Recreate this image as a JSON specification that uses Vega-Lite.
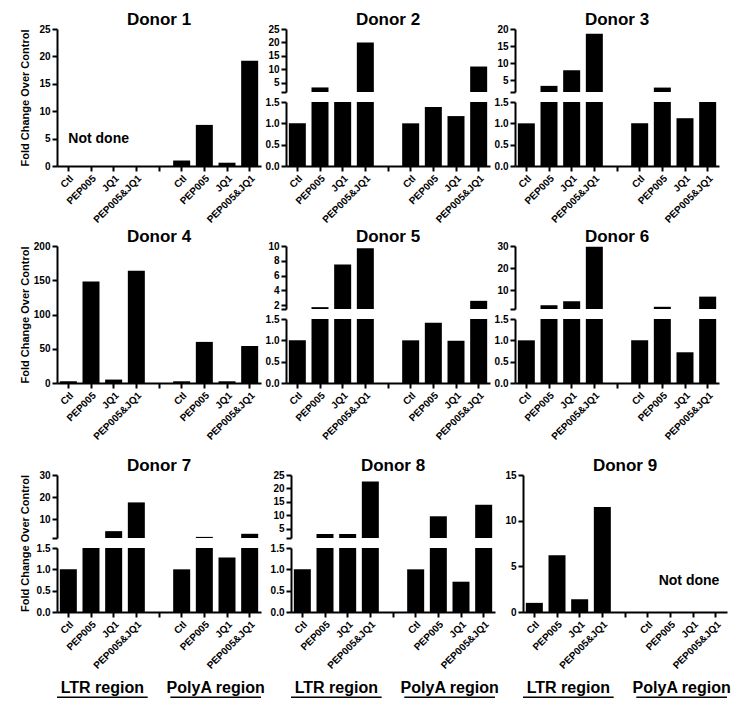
{
"$schema":"https://vega.github.io/schema/vega-lite/v6.json",
"padding":{"left":18,"top":11,"right":5,"bottom":5},
"config":{
 "font":"Liberation Sans",
 "view":{"stroke":null},
 "bar":{"color":"black"},
 "text":{"font":"Liberation Sans","fontWeight":"bold","color":"black"},
 "axis":{"domainColor":"black","domainWidth":2,"tickColor":"black","tickWidth":2,"tickSize":5,"labelColor":"black","labelFontSize":10,"labelFontWeight":"bold","labelFont":"Liberation Sans","labelPadding":2,"titleFont":"Liberation Sans","titleFontSize":11,"titleFontWeight":"bold","titleColor":"black","titlePadding":4,"grid":false,"labelOverlap":false},
 "axisX":{"labelAngle":-45},
 "title":{"font":"Liberation Sans","fontSize":17,"fontWeight":"bold","color":"black","anchor":"middle","offset":-5}
},
"datasets":{"d":[
 {"donor":"Donor 1","bar":"PolyA Ctl","value":1.0},
 {"donor":"Donor 1","bar":"PolyA PEP005","value":7.5},
 {"donor":"Donor 1","bar":"PolyA JQ1","value":0.6},
 {"donor":"Donor 1","bar":"PolyA PEP005&JQ1","value":19.2},
 {"donor":"Donor 2","bar":"LTR Ctl","value":1.0},
 {"donor":"Donor 2","bar":"LTR PEP005","value":3.2},
 {"donor":"Donor 2","bar":"LTR JQ1","value":1.5},
 {"donor":"Donor 2","bar":"LTR PEP005&JQ1","value":20.0},
 {"donor":"Donor 2","bar":"PolyA Ctl","value":1.0},
 {"donor":"Donor 2","bar":"PolyA PEP005","value":1.38},
 {"donor":"Donor 2","bar":"PolyA JQ1","value":1.17},
 {"donor":"Donor 2","bar":"PolyA PEP005&JQ1","value":11.0},
 {"donor":"Donor 3","bar":"LTR Ctl","value":1.0},
 {"donor":"Donor 3","bar":"LTR PEP005","value":3.3},
 {"donor":"Donor 3","bar":"LTR JQ1","value":7.9},
 {"donor":"Donor 3","bar":"LTR PEP005&JQ1","value":18.6},
 {"donor":"Donor 3","bar":"PolyA Ctl","value":1.0},
 {"donor":"Donor 3","bar":"PolyA PEP005","value":2.8},
 {"donor":"Donor 3","bar":"PolyA JQ1","value":1.12},
 {"donor":"Donor 3","bar":"PolyA PEP005&JQ1","value":1.5},
 {"donor":"Donor 4","bar":"LTR Ctl","value":2.5},
 {"donor":"Donor 4","bar":"LTR PEP005","value":148},
 {"donor":"Donor 4","bar":"LTR JQ1","value":5},
 {"donor":"Donor 4","bar":"LTR PEP005&JQ1","value":164},
 {"donor":"Donor 4","bar":"PolyA Ctl","value":2.5},
 {"donor":"Donor 4","bar":"PolyA PEP005","value":60},
 {"donor":"Donor 4","bar":"PolyA JQ1","value":2.5},
 {"donor":"Donor 4","bar":"PolyA PEP005&JQ1","value":54},
 {"donor":"Donor 5","bar":"LTR Ctl","value":1.0},
 {"donor":"Donor 5","bar":"LTR PEP005","value":1.75},
 {"donor":"Donor 5","bar":"LTR JQ1","value":7.5},
 {"donor":"Donor 5","bar":"LTR PEP005&JQ1","value":9.7},
 {"donor":"Donor 5","bar":"PolyA Ctl","value":1.0},
 {"donor":"Donor 5","bar":"PolyA PEP005","value":1.41},
 {"donor":"Donor 5","bar":"PolyA JQ1","value":0.99},
 {"donor":"Donor 5","bar":"PolyA PEP005&JQ1","value":2.6},
 {"donor":"Donor 6","bar":"LTR Ctl","value":1.0},
 {"donor":"Donor 6","bar":"LTR PEP005","value":3.2},
 {"donor":"Donor 6","bar":"LTR JQ1","value":5.0},
 {"donor":"Donor 6","bar":"LTR PEP005&JQ1","value":29.7},
 {"donor":"Donor 6","bar":"PolyA Ctl","value":1.0},
 {"donor":"Donor 6","bar":"PolyA PEP005","value":2.5},
 {"donor":"Donor 6","bar":"PolyA JQ1","value":0.72},
 {"donor":"Donor 6","bar":"PolyA PEP005&JQ1","value":7.1},
 {"donor":"Donor 7","bar":"LTR Ctl","value":1.0},
 {"donor":"Donor 7","bar":"LTR PEP005","value":1.5},
 {"donor":"Donor 7","bar":"LTR JQ1","value":4.6},
 {"donor":"Donor 7","bar":"LTR PEP005&JQ1","value":17.6},
 {"donor":"Donor 7","bar":"PolyA Ctl","value":1.0},
 {"donor":"Donor 7","bar":"PolyA PEP005","value":2.0},
 {"donor":"Donor 7","bar":"PolyA JQ1","value":1.28},
 {"donor":"Donor 7","bar":"PolyA PEP005&JQ1","value":3.4},
 {"donor":"Donor 8","bar":"LTR Ctl","value":1.0},
 {"donor":"Donor 8","bar":"LTR PEP005","value":3.0},
 {"donor":"Donor 8","bar":"LTR JQ1","value":3.0},
 {"donor":"Donor 8","bar":"LTR PEP005&JQ1","value":22.6},
 {"donor":"Donor 8","bar":"PolyA Ctl","value":1.0},
 {"donor":"Donor 8","bar":"PolyA PEP005","value":9.6},
 {"donor":"Donor 8","bar":"PolyA JQ1","value":0.71},
 {"donor":"Donor 8","bar":"PolyA PEP005&JQ1","value":13.9},
 {"donor":"Donor 9","bar":"LTR Ctl","value":1.0},
 {"donor":"Donor 9","bar":"LTR PEP005","value":6.2},
 {"donor":"Donor 9","bar":"LTR JQ1","value":1.4},
 {"donor":"Donor 9","bar":"LTR PEP005&JQ1","value":11.5}
]},
"resolve":{"scale":{"x":"independent","y":"independent"}},
"spacing":3,
"vconcat":[
 {"hconcat":[
  {"width":204,"height":137,"title":"Donor 1",
   "layer":[
    {"data":{"name":"d"},"transform":[{"filter":"datum.donor=='Donor 1'"}],
     "mark":{"type":"bar"},
     "encoding":{
      "x":{"field":"bar","type":"nominal","scale":{"domain":["LTR Ctl","LTR PEP005","LTR JQ1","LTR PEP005&JQ1","gap","PolyA Ctl","PolyA PEP005","PolyA JQ1","PolyA PEP005&JQ1"],"paddingInner":0.25,"paddingOuter":0.125},"axis":{"title":null,"labelExpr":"datum.value=='gap'?'':replace(replace(datum.value,'LTR ',''),'PolyA ','')"}},
      "y":{"field":"value","type":"quantitative","scale":{"domain":[0,25],"nice":false},"axis":{"values":[0,5,10,15,20,25],"title":"Fold Change Over Control","minExtent":23,"maxExtent":23}}}},
    {"data":{"values":[{"note":"Not done"}]},
     "mark":{"type":"text","align":"left","baseline":"middle","fontSize":14},
     "encoding":{"text":{"field":"note"},"x":{"datum":"LTR Ctl","type":"nominal"},"y":{"datum":4.9,"type":"quantitative","axis":{"values":[0,5,10,15,20,25],"title":"Fold Change Over Control","minExtent":23,"maxExtent":23}}}}
   ]},
  {"vconcat":[
    {"width":204,"height":63,"title":"Donor 2","data":{"name":"d"},"transform":[{"filter":"datum.donor=='Donor 2'"}],
     "mark":{"type":"bar","clip":true},
     "encoding":{
      "x":{"field":"bar","type":"nominal","scale":{"domain":["LTR Ctl","LTR PEP005","LTR JQ1","LTR PEP005&JQ1","gap","PolyA Ctl","PolyA PEP005","PolyA JQ1","PolyA PEP005&JQ1"],"paddingInner":0.25,"paddingOuter":0.125},"axis":null},
      "y":{"field":"value","type":"quantitative","scale":{"domain":[1.5,25],"nice":false,"zero":false},"axis":{"values":[1.5,5,10,15,20,25],"labelExpr":"datum.value==1.5?'':datum.label","title":null}}}},
    {"width":204,"height":64,"data":{"name":"d"},"transform":[{"filter":"datum.donor=='Donor 2'"}],
     "mark":{"type":"bar","clip":true},
     "encoding":{
      "x":{"field":"bar","type":"nominal","scale":{"domain":["LTR Ctl","LTR PEP005","LTR JQ1","LTR PEP005&JQ1","gap","PolyA Ctl","PolyA PEP005","PolyA JQ1","PolyA PEP005&JQ1"],"paddingInner":0.25,"paddingOuter":0.125},"axis":{"title":null,"labelExpr":"datum.value=='gap'?'':replace(replace(datum.value,'LTR ',''),'PolyA ','')"}},
      "y":{"field":"value","type":"quantitative","scale":{"domain":[0,1.5],"nice":false},"axis":{"values":[0,0.5,1,1.5],"format":".1f","title":null}}}}
   ],"spacing":10,"bounds":"flush","resolve":{"scale":{"x":"independent","y":"independent"}}},
  {"vconcat":[
    {"width":204,"height":63,"title":"Donor 3","data":{"name":"d"},"transform":[{"filter":"datum.donor=='Donor 3'"}],
     "mark":{"type":"bar","clip":true},
     "encoding":{
      "x":{"field":"bar","type":"nominal","scale":{"domain":["LTR Ctl","LTR PEP005","LTR JQ1","LTR PEP005&JQ1","gap","PolyA Ctl","PolyA PEP005","PolyA JQ1","PolyA PEP005&JQ1"],"paddingInner":0.25,"paddingOuter":0.125},"axis":null},
      "y":{"field":"value","type":"quantitative","scale":{"domain":[1.5,20],"nice":false,"zero":false},"axis":{"values":[1.5,5,10,15,20],"labelExpr":"datum.value==1.5?'':datum.label","title":null}}}},
    {"width":204,"height":64,"data":{"name":"d"},"transform":[{"filter":"datum.donor=='Donor 3'"}],
     "mark":{"type":"bar","clip":true},
     "encoding":{
      "x":{"field":"bar","type":"nominal","scale":{"domain":["LTR Ctl","LTR PEP005","LTR JQ1","LTR PEP005&JQ1","gap","PolyA Ctl","PolyA PEP005","PolyA JQ1","PolyA PEP005&JQ1"],"paddingInner":0.25,"paddingOuter":0.125},"axis":{"title":null,"labelExpr":"datum.value=='gap'?'':replace(replace(datum.value,'LTR ',''),'PolyA ','')"}},
      "y":{"field":"value","type":"quantitative","scale":{"domain":[0,1.5],"nice":false},"axis":{"values":[0,0.5,1,1.5],"format":".1f","title":null}}}}
   ],"spacing":10,"bounds":"flush","resolve":{"scale":{"x":"independent","y":"independent"}}}
 ],"spacing":4,"resolve":{"scale":{"x":"independent","y":"independent"}}},
 {"vconcat":[
  {"hconcat":[
   {"width":204,"height":137,"title":"Donor 4","data":{"name":"d"},"transform":[{"filter":"datum.donor=='Donor 4'"}],
    "mark":{"type":"bar"},
    "encoding":{
     "x":{"field":"bar","type":"nominal","scale":{"domain":["LTR Ctl","LTR PEP005","LTR JQ1","LTR PEP005&JQ1","gap","PolyA Ctl","PolyA PEP005","PolyA JQ1","PolyA PEP005&JQ1"],"paddingInner":0.25,"paddingOuter":0.125},"axis":{"title":null,"labelExpr":"datum.value=='gap'?'':replace(replace(datum.value,'LTR ',''),'PolyA ','')"}},
     "y":{"field":"value","type":"quantitative","scale":{"domain":[0,200],"nice":false},"axis":{"values":[0,50,100,150,200],"title":"Fold Change Over Control","minExtent":23,"maxExtent":23}}}},
   {"vconcat":[
     {"width":204,"height":63,"title":"Donor 5","data":{"name":"d"},"transform":[{"filter":"datum.donor=='Donor 5'"}],
      "mark":{"type":"bar","clip":true},
      "encoding":{
       "x":{"field":"bar","type":"nominal","scale":{"domain":["LTR Ctl","LTR PEP005","LTR JQ1","LTR PEP005&JQ1","gap","PolyA Ctl","PolyA PEP005","PolyA JQ1","PolyA PEP005&JQ1"],"paddingInner":0.25,"paddingOuter":0.125},"axis":null},
       "y":{"field":"value","type":"quantitative","scale":{"domain":[1.5,10],"nice":false,"zero":false},"axis":{"values":[1.5,2,4,6,8,10],"labelExpr":"datum.value==1.5?'':datum.label","title":null}}}},
     {"width":204,"height":64,"data":{"name":"d"},"transform":[{"filter":"datum.donor=='Donor 5'"}],
      "mark":{"type":"bar","clip":true},
      "encoding":{
       "x":{"field":"bar","type":"nominal","scale":{"domain":["LTR Ctl","LTR PEP005","LTR JQ1","LTR PEP005&JQ1","gap","PolyA Ctl","PolyA PEP005","PolyA JQ1","PolyA PEP005&JQ1"],"paddingInner":0.25,"paddingOuter":0.125},"axis":{"title":null,"labelExpr":"datum.value=='gap'?'':replace(replace(datum.value,'LTR ',''),'PolyA ','')"}},
       "y":{"field":"value","type":"quantitative","scale":{"domain":[0,1.5],"nice":false},"axis":{"values":[0,0.5,1,1.5],"format":".1f","title":null}}}}
    ],"spacing":10,"bounds":"flush","resolve":{"scale":{"x":"independent","y":"independent"}}},
   {"vconcat":[
     {"width":204,"height":63,"title":"Donor 6","data":{"name":"d"},"transform":[{"filter":"datum.donor=='Donor 6'"}],
      "mark":{"type":"bar","clip":true},
      "encoding":{
       "x":{"field":"bar","type":"nominal","scale":{"domain":["LTR Ctl","LTR PEP005","LTR JQ1","LTR PEP005&JQ1","gap","PolyA Ctl","PolyA PEP005","PolyA JQ1","PolyA PEP005&JQ1"],"paddingInner":0.25,"paddingOuter":0.125},"axis":null},
       "y":{"field":"value","type":"quantitative","scale":{"domain":[1.5,30],"nice":false,"zero":false},"axis":{"values":[1.5,10,20,30],"labelExpr":"datum.value==1.5?'':datum.label","title":null}}}},
     {"width":204,"height":64,"data":{"name":"d"},"transform":[{"filter":"datum.donor=='Donor 6'"}],
      "mark":{"type":"bar","clip":true},
      "encoding":{
       "x":{"field":"bar","type":"nominal","scale":{"domain":["LTR Ctl","LTR PEP005","LTR JQ1","LTR PEP005&JQ1","gap","PolyA Ctl","PolyA PEP005","PolyA JQ1","PolyA PEP005&JQ1"],"paddingInner":0.25,"paddingOuter":0.125},"axis":{"title":null,"labelExpr":"datum.value=='gap'?'':replace(replace(datum.value,'LTR ',''),'PolyA ','')"}},
       "y":{"field":"value","type":"quantitative","scale":{"domain":[0,1.5],"nice":false},"axis":{"values":[0,0.5,1,1.5],"format":".1f","title":null}}}}
    ],"spacing":10,"bounds":"flush","resolve":{"scale":{"x":"independent","y":"independent"}}}
  ],"spacing":4,"resolve":{"scale":{"x":"independent","y":"independent"}}},
  {"hconcat":[
   {"vconcat":[
     {"vconcat":[
       {"width":204,"height":63,"title":"Donor 7","data":{"name":"d"},"transform":[{"filter":"datum.donor=='Donor 7'"}],
        "mark":{"type":"bar","clip":true},
        "encoding":{
         "x":{"field":"bar","type":"nominal","scale":{"domain":["LTR Ctl","LTR PEP005","LTR JQ1","LTR PEP005&JQ1","gap","PolyA Ctl","PolyA PEP005","PolyA JQ1","PolyA PEP005&JQ1"],"paddingInner":0.25,"paddingOuter":0.125},"axis":null},
         "y":{"field":"value","type":"quantitative","scale":{"domain":[1.5,30],"nice":false,"zero":false},"axis":{"values":[1.5,10,20,30],"labelExpr":"datum.value==1.5?'':datum.label","title":null}}}},
       {"width":204,"height":64,"data":{"name":"d"},"transform":[{"filter":"datum.donor=='Donor 7'"}],
        "mark":{"type":"bar","clip":true},
        "encoding":{
         "x":{"field":"bar","type":"nominal","scale":{"domain":["LTR Ctl","LTR PEP005","LTR JQ1","LTR PEP005&JQ1","gap","PolyA Ctl","PolyA PEP005","PolyA JQ1","PolyA PEP005&JQ1"],"paddingInner":0.25,"paddingOuter":0.125},"axis":{"title":null,"labelExpr":"datum.value=='gap'?'':replace(replace(datum.value,'LTR ',''),'PolyA ','')"}},
         "y":{"field":"value","type":"quantitative","scale":{"domain":[0,1.5],"nice":false},"axis":{"values":[0,0.5,1,1.5],"format":".1f","title":"Fold Change Over Control","titleY":-5,"minExtent":23,"maxExtent":23}}}}
      ],"spacing":10,"bounds":"flush","resolve":{"scale":{"x":"independent","y":"independent"}}},
     {"width":204,"height":5,
      "data":{"values":[{"region":"LTR region"},{"region":"PolyA region"}]},
      "layer":[
       {"mark":{"type":"text","fontSize":16,"baseline":"alphabetic","align":"center"},
        "encoding":{"x":{"field":"region","type":"nominal","scale":{"domain":["LTR region","PolyA region"],"paddingInner":0.2,"paddingOuter":0},"axis":null},
                    "text":{"field":"region"},
                    "y":{"datum":1,"type":"quantitative","scale":{"domain":[0,1]},"axis":null}}},
       {"mark":{"type":"bar","color":"black"},
        "encoding":{"x":{"field":"region","type":"nominal"},
                    "y":{"datum":0,"type":"quantitative"},"y2":{"datum":0.3}}}
      ]}
    ],"spacing":9,"resolve":{"scale":{"x":"independent","y":"independent"}}},
   {"vconcat":[
     {"vconcat":[
       {"width":204,"height":63,"title":"Donor 8","data":{"name":"d"},"transform":[{"filter":"datum.donor=='Donor 8'"}],
        "mark":{"type":"bar","clip":true},
        "encoding":{
         "x":{"field":"bar","type":"nominal","scale":{"domain":["LTR Ctl","LTR PEP005","LTR JQ1","LTR PEP005&JQ1","gap","PolyA Ctl","PolyA PEP005","PolyA JQ1","PolyA PEP005&JQ1"],"paddingInner":0.25,"paddingOuter":0.125},"axis":null},
         "y":{"field":"value","type":"quantitative","scale":{"domain":[1.5,25],"nice":false,"zero":false},"axis":{"values":[1.5,5,10,15,20,25],"labelExpr":"datum.value==1.5?'':datum.label","title":null}}}},
       {"width":204,"height":64,"data":{"name":"d"},"transform":[{"filter":"datum.donor=='Donor 8'"}],
        "mark":{"type":"bar","clip":true},
        "encoding":{
         "x":{"field":"bar","type":"nominal","scale":{"domain":["LTR Ctl","LTR PEP005","LTR JQ1","LTR PEP005&JQ1","gap","PolyA Ctl","PolyA PEP005","PolyA JQ1","PolyA PEP005&JQ1"],"paddingInner":0.25,"paddingOuter":0.125},"axis":{"title":null,"labelExpr":"datum.value=='gap'?'':replace(replace(datum.value,'LTR ',''),'PolyA ','')"}},
         "y":{"field":"value","type":"quantitative","scale":{"domain":[0,1.5],"nice":false},"axis":{"values":[0,0.5,1,1.5],"format":".1f","title":null}}}}
      ],"spacing":10,"bounds":"flush","resolve":{"scale":{"x":"independent","y":"independent"}}},
     {"width":204,"height":5,
      "data":{"values":[{"region":"LTR region"},{"region":"PolyA region"}]},
      "layer":[
       {"mark":{"type":"text","fontSize":16,"baseline":"alphabetic","align":"center"},
        "encoding":{"x":{"field":"region","type":"nominal","scale":{"domain":["LTR region","PolyA region"],"paddingInner":0.2,"paddingOuter":0},"axis":null},
                    "text":{"field":"region"},
                    "y":{"datum":1,"type":"quantitative","scale":{"domain":[0,1]},"axis":null}}},
       {"mark":{"type":"bar","color":"black"},
        "encoding":{"x":{"field":"region","type":"nominal"},
                    "y":{"datum":0,"type":"quantitative"},"y2":{"datum":0.3}}}
      ]}
    ],"spacing":9,"resolve":{"scale":{"x":"independent","y":"independent"}}},
   {"vconcat":[
     {"width":204,"height":137,"title":"Donor 9",
      "layer":[
       {"data":{"name":"d"},"transform":[{"filter":"datum.donor=='Donor 9'"}],
        "mark":{"type":"bar"},
        "encoding":{
         "x":{"field":"bar","type":"nominal","scale":{"domain":["LTR Ctl","LTR PEP005","LTR JQ1","LTR PEP005&JQ1","gap","PolyA Ctl","PolyA PEP005","PolyA JQ1","PolyA PEP005&JQ1"],"paddingInner":0.25,"paddingOuter":0.125},"axis":{"title":null,"labelExpr":"datum.value=='gap'?'':replace(replace(datum.value,'LTR ',''),'PolyA ','')"}},
         "y":{"field":"value","type":"quantitative","scale":{"domain":[0,15],"nice":false},"axis":{"values":[0,5,10,15],"title":null}}}},
       {"data":{"values":[{"note":"Not done"}]},
        "mark":{"type":"text","align":"center","baseline":"middle","fontSize":14,"dx":-4},
        "encoding":{"text":{"field":"note"},"x":{"datum":"PolyA JQ1","type":"nominal"},"y":{"datum":3.4,"type":"quantitative","axis":{"values":[0,5,10,15],"title":null}}}}
      ]},
     {"width":204,"height":5,
      "data":{"values":[{"region":"LTR region"},{"region":"PolyA region"}]},
      "layer":[
       {"mark":{"type":"text","fontSize":16,"baseline":"alphabetic","align":"center"},
        "encoding":{"x":{"field":"region","type":"nominal","scale":{"domain":["LTR region","PolyA region"],"paddingInner":0.2,"paddingOuter":0},"axis":null},
                    "text":{"field":"region"},
                    "y":{"datum":1,"type":"quantitative","scale":{"domain":[0,1]},"axis":null}}},
       {"mark":{"type":"bar","color":"black"},
        "encoding":{"x":{"field":"region","type":"nominal"},
                    "y":{"datum":0,"type":"quantitative"},"y2":{"datum":0.3}}}
      ]}
    ],"spacing":9,"resolve":{"scale":{"x":"independent","y":"independent"}}}
  ],"spacing":4,"resolve":{"scale":{"x":"independent","y":"independent"}}}
 ],"spacing":15,"resolve":{"scale":{"x":"independent","y":"independent"}}}
]
}
